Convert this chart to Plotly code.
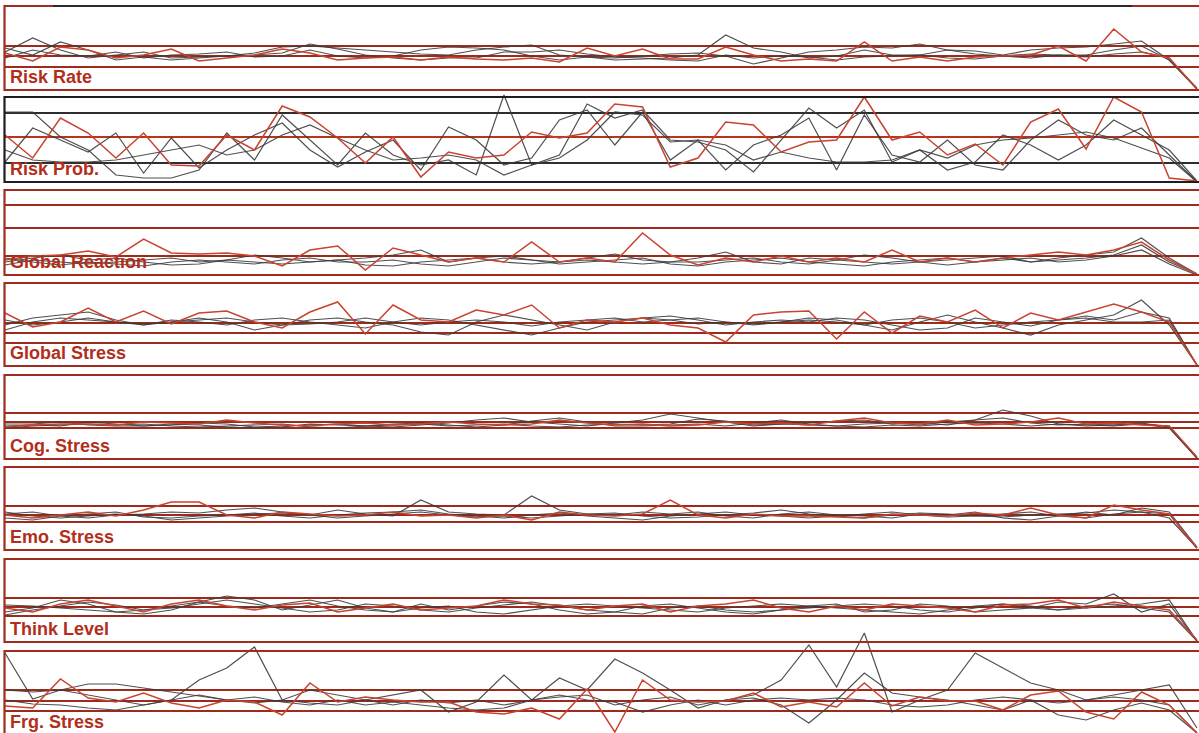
import plotly.graph_objects as go

W, H = 1199, 733

labels = ["Risk Rate", "Risk Prob.", "Global Reaction", "Global Stress",
          "Cog. Stress", "Emo. Stress", "Think Level", "Frg. Stress"]
t = list(range(44))

# ---- Risk Rate
risk_rate_red = [37,29,43,40,32,35,41,29,32,35,41,37,30,32,33,30,33,31,30,32,28,42,34,41,31,31,43,35,29,31,29,48,29,33,29,33,34,35,44,29,61,38,32,1]
risk_rate_g1 = [38,52,40,32,35,38,32,33,34,37,43,44,42,40,38,36,35,40,43,45,35,33,30,31,32,35,55,42,38,32,34,40,35,35,40,39,35,40,42,43,46,49,30,1]
risk_rate_g2 = [42,35,48,40,30,33,30,32,34,35,37,46,41,35,32,30,32,32,38,38,40,36,33,32,30,29,35,32,34,33,30,33,34,35,32,31,34,32,35,35,40,44,30,2]
risk_rate_g3 = [32,40,35,34,38,32,35,36,38,33,34,40,34,32,34,40,43,42,40,34,30,33,32,34,36,37,34,26,32,38,40,43,42,46,40,36,34,36,35,33,36,38,32,1]
risk_rate_ref = [44, 34, 23]

# ---- Risk Prob.
risk_prob_red = [47,24,64,49,24,49,17,16,47,32,76,65,44,19,45,5,30,24,27,50,44,49,78,75,15,24,60,57,30,40,42,85,42,50,27,38,17,60,73,33,85,70,4,1]
risk_prob_g1 = [70,70,45,32,7,4,4,12,49,22,67,42,17,49,27,17,22,7,87,17,27,78,64,72,42,40,32,10,42,74,54,72,20,32,12,20,47,37,22,37,62,47,32,1]
risk_prob_g2 = [20,54,42,30,49,9,44,14,32,47,59,32,15,30,42,12,55,42,17,24,62,72,37,70,22,42,12,37,47,64,12,67,27,20,42,17,12,42,62,47,42,54,27,0]
risk_prob_g3 = [32,22,20,20,22,27,32,37,27,32,47,57,44,32,22,24,27,22,7,17,24,42,70,67,40,42,37,22,30,24,20,20,22,32,24,37,42,44,47,50,44,34,24,0]
risk_prob_ref = [69, 45, 19]

# ---- Global Reaction
glob_react_red = [15,19,20,24,18,36,22,21,22,19,9,25,29,5,27,20,13,17,13,33,13,17,13,42,20,10,17,13,19,13,17,13,25,13,17,13,17,20,23,20,25,33,15,1]
glob_react_g1 = [13,17,20,15,17,13,10,11,15,20,17,13,15,17,20,25,13,17,19,15,13,17,21,15,13,17,23,13,11,17,15,20,17,13,15,17,19,13,17,20,23,37,17,1]
glob_react_g2 = [10,15,13,11,13,15,17,13,15,13,11,13,15,10,9,13,15,17,13,11,13,15,13,11,13,13,15,17,13,11,15,13,11,13,10,13,17,13,15,17,20,30,13,1]
glob_react_g3 = [17,13,10,13,11,9,13,15,13,11,15,17,13,13,15,11,9,13,17,15,11,13,15,17,11,9,13,15,17,13,11,9,13,15,17,13,15,17,13,15,19,25,11,0]
glob_react_ref = [70, 47, 19]

# ---- Global Stress
glob_stress_red = [53,39,44,58,44,55,42,53,55,44,38,54,64,32,61,46,44,56,51,61,38,46,44,48,41,38,24,51,54,55,27,54,33,50,44,56,38,53,46,54,62,54,44,1]
glob_stress_g1 = [41,48,51,54,46,41,44,48,44,36,41,46,48,44,41,34,31,44,51,46,41,36,44,48,46,42,44,41,44,48,46,41,36,44,51,44,38,31,41,46,51,66,41,1]
glob_stress_g2 = [36,44,48,46,44,41,46,44,41,46,48,44,41,38,44,48,46,41,36,31,38,44,46,48,50,46,41,44,46,44,48,46,41,36,38,48,44,40,46,50,46,54,48,1]
glob_stress_g3 = [46,41,44,48,44,42,44,46,48,44,41,42,44,48,44,41,44,46,44,40,44,46,48,44,46,48,44,42,44,46,44,41,46,48,44,38,41,44,46,48,44,44,46,1]
glob_stress_ref = [43, 33, 23]

# ---- Cog. Stress
cog_stress_red = [32,34,35,35,34,37,36,35,39,36,34,33,35,36,34,35,37,35,34,35,39,36,34,35,33,34,37,35,36,34,38,41,36,35,39,34,35,37,41,35,36,34,33,2]
cog_stress_g1 = [33,34,33,37,35,33,34,36,35,32,33,34,35,33,32,34,36,39,41,37,35,33,36,39,45,41,37,33,35,36,38,39,35,36,34,39,49,43,35,33,34,35,33,1]
cog_stress_g2 = [31,33,34,35,34,35,33,32,33,34,35,32,31,33,34,35,33,34,35,33,32,34,35,34,35,40,38,34,35,34,33,35,36,34,37,39,41,36,34,35,34,36,32,1]
cog_stress_g3 = [35,35,37,34,33,33,35,34,32,31,32,35,34,33,35,36,34,32,34,38,41,37,33,33,34,35,33,36,39,35,33,32,34,33,35,36,35,33,35,34,33,35,31,1]
cog_stress_ref = [46, 37, 31]

# ---- Emo. Stress
emo_stress_red = [35,32,35,38,34,40,48,48,35,32,38,36,34,35,38,34,35,32,35,30,38,35,34,36,50,35,32,36,34,34,33,32,36,35,34,37,35,42,35,32,45,40,36,2]
emo_stress_g1 = [36,38,34,32,35,36,38,37,40,42,38,35,40,36,34,50,38,36,35,54,40,36,35,38,36,38,34,32,36,38,35,34,32,36,35,38,32,30,34,38,35,42,38,3]
emo_stress_g2 = [32,30,34,36,38,33,32,34,35,37,34,32,35,37,38,40,36,34,32,35,37,34,32,30,34,36,38,35,34,32,34,36,38,35,33,34,36,38,34,32,36,38,36,2]
emo_stress_g3 = [38,34,32,34,36,34,30,32,34,36,37,35,32,34,36,38,35,33,34,32,34,36,37,34,32,33,35,37,40,36,34,32,35,37,36,34,33,35,36,37,40,38,32,2]
emo_stress_ref = [44, 35, 28]

# ---- Think Level
think_red = [34,30,38,42,36,30,38,42,36,32,37,39,30,34,38,32,34,36,42,38,37,32,36,38,30,36,38,42,34,30,36,32,38,36,34,30,37,38,42,34,40,36,32,2]
think_g1 = [30,34,42,38,30,28,32,40,46,42,32,37,42,34,30,38,32,36,40,38,32,28,30,36,38,34,30,28,32,36,38,30,32,38,36,30,32,34,40,38,48,30,38,1]
think_g2 = [27,32,36,40,37,32,34,38,42,38,34,30,32,38,36,32,30,34,37,40,36,32,30,28,34,36,32,30,32,34,36,38,36,32,30,34,38,36,32,34,36,38,42,1]
think_g3 = [37,36,34,32,30,32,36,40,36,34,38,42,36,32,30,34,36,30,28,32,36,38,36,34,32,30,34,36,38,36,34,32,30,28,32,36,38,34,32,36,38,34,30,1]
think_ref = [44, 35, 26]

# ---- Frg. Stress
frg_red = [29,27,56,37,33,42,32,27,35,33,20,52,33,38,35,33,33,23,21,27,16,46,3,55,35,33,34,42,28,33,28,52,29,38,34,34,25,40,44,23,16,43,30,2]
frg_g1 = [82,36,45,40,35,30,35,55,67,88,35,32,30,35,40,45,23,33,60,35,57,45,76,62,45,27,35,40,55,90,48,102,23,35,45,82,67,52,45,35,40,45,50,7]
frg_g2 = [45,43,45,51,51,47,43,39,35,32,35,45,40,35,30,35,32,35,30,35,38,40,30,35,38,30,35,37,30,12,35,62,42,38,35,30,25,35,20,15,25,32,25,2]
frg_g3 = [35,31,30,27,25,30,35,40,35,38,33,30,35,30,33,30,27,25,27,35,40,35,33,23,30,35,30,35,37,35,37,35,30,28,30,35,38,35,32,35,38,35,30,2]
frg_ref = [45, 34, 24]

panels = [
    (risk_rate_red, [risk_rate_g1, risk_rate_g2, risk_rate_g3], risk_rate_ref),
    (risk_prob_red, [risk_prob_g1, risk_prob_g2, risk_prob_g3], risk_prob_ref),
    (glob_react_red, [glob_react_g1, glob_react_g2, glob_react_g3], glob_react_ref),
    (glob_stress_red, [glob_stress_g1, glob_stress_g2, glob_stress_g3], glob_stress_ref),
    (cog_stress_red, [cog_stress_g1, cog_stress_g2, cog_stress_g3], cog_stress_ref),
    (emo_stress_red, [emo_stress_g1, emo_stress_g2, emo_stress_g3], emo_stress_ref),
    (think_red, [think_g1, think_g2, think_g3], think_ref),
    (frg_red, [frg_g1, frg_g2, frg_g3], frg_ref),
]

# layout geometry (pixels)
top_px = [6, 97, 190, 283, 375, 467, 559, 651]
bot_px = [90, 182, 275, 366, 459, 550, 642, 735]
left_px = 4.5
x0_px, dx_px = 5.0, 27.72

FRAME = "#a12b1c"
REFC = "#9e2a1b"
LABEL = "#b32e1a"
RED = "#c9432f"
GRAY = "#3c3c3c"

ref_colors = [
    [REFC, REFC, REFC],
    ["#2e2e2e", "#b8341f", "#2e2e2e"],
] + [[REFC, REFC, REFC]] * 6

fig = go.Figure()
shapes = []
annotations = []
layout = {}

for k, (red, grays, refs) in enumerate(panels):
    yname = "y" if k == 0 else f"y{k+1}"
    ykey = "yaxis" if k == 0 else f"yaxis{k+1}"
    top, bot = top_px[k], bot_px[k]
    dtop = max(0, top - 25)
    dbot = min(H, bot)
    layout[ykey] = dict(domain=[1 - dbot / H, 1 - dtop / H],
                        range=[bot - dbot, bot - dtop],
                        visible=False, fixedrange=True)
    for g in grays:
        fig.add_trace(go.Scatter(x=t, y=g, mode="lines", xaxis="x", yaxis=yname,
                                 line=dict(color=GRAY, width=1.2), opacity=0.9,
                                 hoverinfo="skip"))
    fig.add_trace(go.Scatter(x=t, y=red, mode="lines", xaxis="x", yaxis=yname,
                             line=dict(color=RED, width=1.5), hoverinfo="skip"))
    for r, c in zip(refs, ref_colors[k]):
        shapes.append(dict(type="line", xref="paper", yref=yname,
                           x0=left_px / W, x1=1.0, y0=r, y1=r,
                           line=dict(color=c, width=2), layer="below"))
    fcol = "#1e1e1e" if k == 1 else FRAME
    shapes.append(dict(type="rect", xref="paper", yref="paper",
                       x0=left_px / W, x1=1.02, y0=1 - bot / H, y1=1 - top / H,
                       line=dict(color=fcol, width=2.2), fillcolor="rgba(0,0,0,0)",
                       layer="above"))
    annotations.append(dict(xref="paper", yref="paper", x=8 / W, y=1 - (bot - 13) / H,
                            xanchor="left", yanchor="middle", showarrow=False,
                            text=f"<b>{labels[k]}</b>",
                            font=dict(family="Liberation Sans, Arial", size=18, color=LABEL)))

# dark top edge of first panel
shapes.append(dict(type="line", xref="paper", yref="paper", x0=53 / W, x1=1132 / W,
                   y0=1 - top_px[0] / H, y1=1 - top_px[0] / H,
                   line=dict(color="#2a2a2a", width=2.2), layer="above"))

xmin = (0 - x0_px) / dx_px
xmax = (W - x0_px) / dx_px
fig.update_layout(
    width=W, height=H,
    margin=dict(l=0, r=0, t=0, b=0),
    paper_bgcolor="white", plot_bgcolor="rgba(0,0,0,0)",
    showlegend=False,
    xaxis=dict(domain=[0, 1], range=[xmin, xmax], visible=False, fixedrange=True),
    shapes=shapes, annotations=annotations,
    **layout,
)

fig.write_html("out.html", config={"displayModeBar": False, "staticPlot": True})
